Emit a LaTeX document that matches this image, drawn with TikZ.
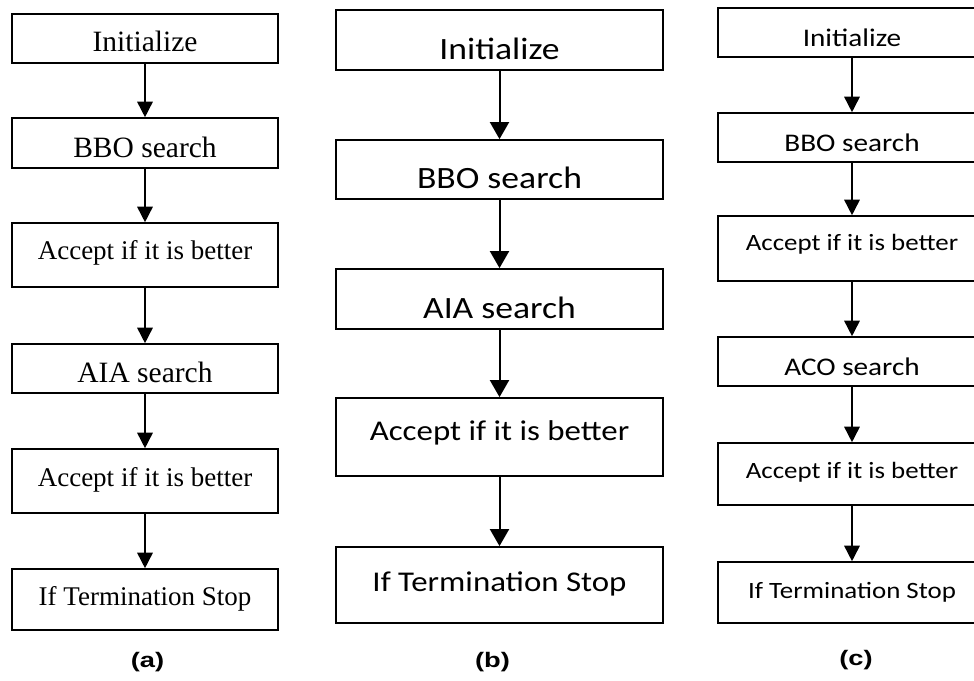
\documentclass[tikz,border=0pt]{standalone}
\usepackage{fontspec}
\usetikzlibrary{arrows.meta}
\newfontfamily\tmsfont{Liberation Serif}
\newfontfamily\calfont[FakeStretch=1.15]{Carlito}
\newfontfamily\lblfont[FakeStretch=1.3]{Liberation Sans}
\tikzset{
  boxbase/.style={draw, line width=1.6pt, inner xsep=0pt, inner ysep=0pt, align=center},
  abox/.style={boxbase, minimum width=266pt},
  bbox/.style={boxbase, line width=1.8pt, minimum width=327pt},
  cbox/.style={boxbase, minimum width=268pt},
  ashort/.style={font=\tmsfont\fontsize{29.5}{30}\selectfont},
  along/.style={font=\tmsfont\fontsize{27}{28}\selectfont},
  bshort/.style={font=\calfont\fontsize{31}{32}\selectfont},
  blong/.style={font=\calfont\fontsize{28.6}{30}\selectfont},
  cshort/.style={font=\calfont\fontsize{25.4}{26}\selectfont},
  clong/.style={font=\calfont\fontsize{23.4}{24}\selectfont},
  conn/.style={line width=1.6pt, -{Triangle[width=15.5pt,length=15.5pt]}},
  bconn/.style={line width=2pt, -{Triangle[width=19pt,length=17pt]}},
  sublabel/.style={font=\lblfont\bfseries\fontsize{21}{22}\selectfont, anchor=base}
}
\begin{document}
\begin{tikzpicture}[x=1pt,y=-1pt]
\useasboundingbox (0,0) rectangle (974,680);
% column (a)
\node[abox, ashort, text height=37.7pt, text depth=11.3pt] (a1) at (145,38.5) {Initialize};
\node[abox, ashort, text height=39pt, text depth=11pt] (a2) at (145,143) {BBO search};
\node[abox, along, text height=36pt, text depth=28pt] (a3) at (145,255) {Accept if it is better};
\node[abox, ashort, text height=38.7pt, text depth=10.3pt] (a4) at (145,368.5) {AIA search};
\node[abox, along, text height=37pt, text depth=27pt] (a5) at (145,481) {Accept if it is better};
\node[abox, along, text height=36.7pt, text depth=24.3pt] (a6) at (145,599.5) {If Termination Stop};
\draw[conn] (a1) -- (a2);
\draw[conn] (a2) -- (a3);
\draw[conn] (a3) -- (a4);
\draw[conn] (a4) -- (a5);
\draw[conn] (a5) -- (a6);
\node[sublabel] (la) at (147.5,667.5) {(a)};
% column (b)
\node[bbox, bshort, text height=49.3pt, text depth=10.7pt] (b1) at (499.5,40) {Initialize};
\node[bbox, bshort, text height=48.3pt, text depth=10.7pt] (b2) at (499.5,169.5) {BBO search};
\node[bbox, bshort, text height=49.3pt, text depth=10.7pt] (b3) at (499.5,299) {AIA search};
\node[bbox, blong, text height=42pt, text depth=36pt] (b4) at (499.5,437) {Accept if it is better};
\node[bbox, blong, text height=44.7pt, text depth=31.3pt] (b5) at (499.5,585) {If Termination Stop};
\draw[bconn] (b1) -- (b2);
\draw[bconn] (b2) -- (b3);
\draw[bconn] (b3) -- (b4);
\draw[bconn] (b4) -- (b5);
\node[sublabel] (lb) at (492.5,667) {(b)};
% column (c)
\node[cbox, cshort, text height=38.4pt, text depth=10.6pt] (c1) at (852,32.5) {Initialize};
\node[cbox, cshort, text height=38.7pt, text depth=10.3pt] (c2) at (852,137.5) {BBO search};
\node[cbox, clong, text height=34.7pt, text depth=30.3pt] (c3) at (852,248.5) {Accept if it is better};
\node[cbox, cshort, text height=38pt, text depth=11pt] (c4) at (852,361.5) {ACO search};
\node[cbox, clong, text height=35.3pt, text depth=26.7pt] (c5) at (852,474) {Accept if it is better};
\node[cbox, clong, text height=36.3pt, text depth=24.7pt] (c6) at (852,592.5) {If Termination Stop};
\draw[conn] (c1) -- (c2);
\draw[conn] (c2) -- (c3);
\draw[conn] (c3) -- (c4);
\draw[conn] (c4) -- (c5);
\draw[conn] (c5) -- (c6);
\node[sublabel] (lc) at (856,665.5) {(c)};
\end{tikzpicture}
\end{document}
